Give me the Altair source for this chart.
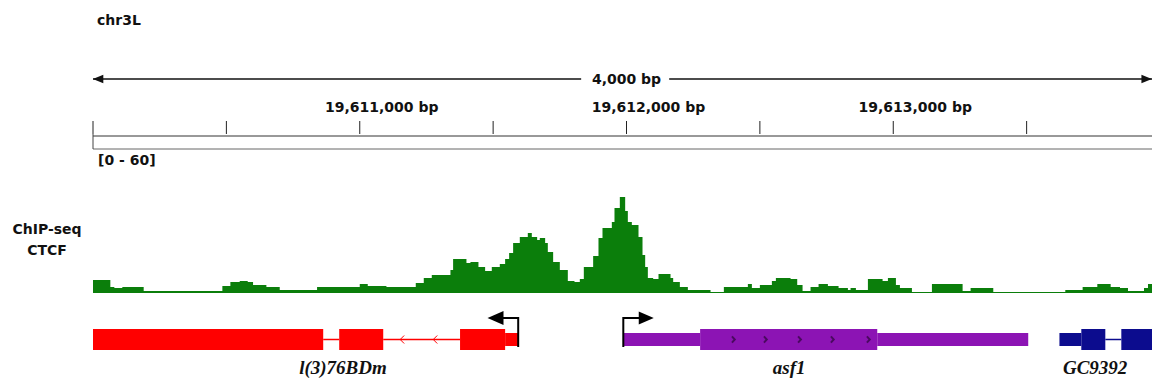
import altair as alt
import pandas as pd

# ---------------- data ----------------
CHROM = "chr3L"
START = 19610000
END = 19614000
TRACK_NAME = ["ChIP-seq", "CTCF"]
DATA_RANGE = "[0 - 60]"

tick_step = 500
label_positions = [19611000, 19612000, 19613000]

# ChIP-seq CTCF coverage (bin start offset from START, value)
sig_offsets = [0, 65, 80, 110, 190, 485, 515, 550, 580, 600, 650, 700, 840, 1000, 1030, 1100,
               1210, 1240, 1270, 1340, 1350, 1400, 1415, 1445, 1470, 1495, 1525, 1545, 1560, 1575,
               1600, 1630, 1645, 1665, 1675, 1695, 1705, 1725, 1750, 1780, 1805, 1825, 1840, 1875,
               1895, 1910, 1945, 1955, 1975, 1995, 2005, 2020, 2045, 2060, 2070, 2080, 2100, 2120,
               2165, 2175, 2200, 2230, 2315, 2365, 2455, 2470, 2500, 2545, 2560, 2615, 2640, 2660,
               2690, 2720, 2755, 2795, 2830, 2840, 2860, 2905, 2960, 2980, 3010, 3025, 3070, 3145,
               3260, 3290, 3375, 3645, 3710, 3765, 3815, 3850, 3880, 3940, 3955, 4000]
sig_values = [7.8, 3.6, 3.0, 3.6, 1.2, 4.2, 6.6, 7.2, 6.6, 4.8, 3.6, 1.8, 3.6, 5.4, 4.2, 3.6,
              6.0, 9.0, 10.8, 13.8, 20.4, 18.0, 18.6, 15.6, 13.2, 15.6, 17.4, 20.4, 24.0, 30.0,
              33.6, 36.0, 33.6, 31.8, 33.0, 30.0, 24.6, 18.6, 13.8, 7.2, 6.6, 8.4, 15.6, 22.2,
              33.0, 39.0, 42.6, 51.0, 57.6, 49.2, 42.6, 40.8, 33.6, 22.8, 15.6, 9.0, 8.4, 11.4,
              9.0, 6.6, 3.6, 1.8, 0.6, 3.6, 5.4, 3.0, 4.8, 7.2, 9.0, 8.4, 4.8, 1.2,
              3.6, 5.4, 4.2, 3.0, 1.8, 3.0, 1.8, 8.4, 7.2, 9.0, 4.8, 3.0, 0.6, 5.4,
              1.2, 3.0, 0.6, 1.8, 3.6, 5.4, 3.6, 3.0, 1.2, 3.0, 5.4, 5.4]

gene_names = ["l(3)76BDm", "asf1", "GC9392"]
gene_colors = ["#ff0000", "#8c14b4", "#0c0c8e"]
gene_label_pos = [19610937, 19612610, 19613757]

# exon blocks: gene, kind, start, end
part_gene = ["l(3)76BDm", "l(3)76BDm", "l(3)76BDm", "l(3)76BDm", "asf1", "asf1", "asf1", "GC9392", "GC9392", "GC9392"]
part_kind = ["thick", "thick", "thick", "thin", "thin", "thick", "thin", "thin", "thick", "thick"]
part_start = [19610000, 19610923, 19611376, 19611545, 19611988, 19612276, 19612940, 19613623, 19613705, 19613855]
part_end = [19610863, 19611088, 19611545, 19611594, 19612276, 19612940, 19613506, 19613705, 19613795, 19614000]

intron_gene = ["l(3)76BDm", "l(3)76BDm", "GC9392"]
intron_start = [19610863, 19611088, 19613795]
intron_end = [19610923, 19611376, 19613855]

red_chevrons = [19611159, 19611283]
purple_marks = [19612400, 19612520, 19612648, 19612771, 19612906]

# transcription start sites: position, arrow head position
tss_pos = [19611594, 19611988]
tss_head = [19611509, 19612074]
tss_dir = ["left", "right"]

GREEN = "#0b7e0b"
FONT = "DejaVu Sans"
SERIF = "Liberation Serif"

# ---------------- tables ----------------
sig_df = pd.DataFrame({"pos": [START + o for o in sig_offsets], "val": sig_values})
ticks_df = pd.DataFrame({"pos": list(range(START, END + 1, tick_step))})
labels_df = pd.DataFrame({"pos": label_positions, "label": [f"{p:,} bp" for p in label_positions]})
box_df = pd.DataFrame({"s": [START], "e": [END]})
span_df = pd.DataFrame({"s": [START, 19612160], "e": [19611830, END]})
span_text_df = pd.DataFrame({"pos": [(START + END) // 2], "t": [f"{END - START:,} bp"]})
parts_df = pd.DataFrame({"gene": part_gene, "kind": part_kind, "s": part_start, "e": part_end})
introns_df = pd.DataFrame({"gene": intron_gene, "s": intron_start, "e": intron_end})
glab_df = pd.DataFrame({"gene": gene_names, "pos": gene_label_pos})
chev_df = pd.DataFrame({"pos": red_chevrons})
marks_df = pd.DataFrame({"pos": purple_marks})
tss_df = pd.DataFrame({"pos": tss_pos, "head": tss_head, "dir": tss_dir})
one = pd.DataFrame({"a": [0]})

xs = alt.Scale(domain=[START, END], range=[85, 1152])
gcol = alt.Color("gene:N", scale=alt.Scale(domain=gene_names, range=gene_colors), legend=None)


def X(f):
    return alt.X(f"{f}:Q", scale=xs, axis=None)


def X2(f):
    return alt.X2(f"{f}:Q")


txt = dict(font=FONT, fontWeight="bold", fontSize=14, color="#111111")

layers = []
# ruler
layers.append(alt.Chart(one).mark_text(align="left", baseline="middle", text=CHROM, **txt)
              .encode(x=alt.value(89), y=alt.value(13)))
layers.append(alt.Chart(span_df).mark_rule(color="#111111", strokeWidth=1.5)
              .encode(x=X("s"), x2=X2("e"), y=alt.value(71)))
layers.append(alt.Chart(pd.DataFrame({"pos": [START + 19]})).mark_point(
    shape="M-1,0L1,-0.8L1,0.8Z", filled=True, color="#111111", size=110, opacity=1)
    .encode(x=X("pos"), y=alt.value(71)))
layers.append(alt.Chart(pd.DataFrame({"pos": [END - 50]})).mark_point(
    shape="M1,0L-1,-0.8L-1,0.8Z", filled=True, color="#111111", size=110, opacity=1)
    .encode(x=X("pos"), y=alt.value(71)))
layers.append(alt.Chart(span_text_df).mark_text(align="center", baseline="middle", **txt)
              .encode(x=X("pos"), y=alt.value(72), text="t:N"))
layers.append(alt.Chart(labels_df).mark_text(align="center", baseline="middle", dx=22, **txt)
              .encode(x=X("pos"), y=alt.value(100), text="label:N"))
layers.append(alt.Chart(ticks_df).mark_rule(color="#222222", strokeWidth=1)
              .encode(x=X("pos"), y=alt.value(113), y2=alt.value(126)))
layers.append(alt.Chart(box_df).mark_rule(color="#333333", strokeWidth=1)
              .encode(x=X("s"), x2=X2("e"), y=alt.value(128)))
layers.append(alt.Chart(box_df).mark_rule(color="#666666", strokeWidth=1)
              .encode(x=X("s"), x2=X2("e"), y=alt.value(141)))
layers.append(alt.Chart(box_df).mark_rule(color="#444444", strokeWidth=1)
              .encode(x=X("s"), y=alt.value(126), y2=alt.value(141)))

# data track
layers.append(alt.Chart(one).mark_text(align="left", baseline="middle", text=DATA_RANGE, **txt)
              .encode(x=alt.value(90), y=alt.value(153)))
layers.append(alt.Chart(one).mark_text(align="center", baseline="middle", text=TRACK_NAME[0], **txt)
              .encode(x=alt.value(39), y=alt.value(222)))
layers.append(alt.Chart(one).mark_text(align="center", baseline="middle", text=TRACK_NAME[1], **txt)
              .encode(x=alt.value(39), y=alt.value(243)))
layers.append(alt.Chart(sig_df).mark_area(interpolate="step-after", color=GREEN)
              .encode(x=X("pos"),
                      y=alt.Y("val:Q", scale=alt.Scale(domain=[0, 60], range=[285, 185]), axis=None)))

# genes
layers.append(alt.Chart(introns_df).mark_rule(strokeWidth=1.5)
              .encode(x=X("s"), x2=X2("e"), y=alt.value(331.5), color=gcol))
layers.append(alt.Chart(parts_df).transform_filter(alt.datum.kind == "thick").mark_rect()
              .encode(x=X("s"), x2=X2("e"), y=alt.value(321), y2=alt.value(342), color=gcol))
layers.append(alt.Chart(parts_df).transform_filter(alt.datum.kind == "thin").mark_rect()
              .encode(x=X("s"), x2=X2("e"), y=alt.value(325), y2=alt.value(338), color=gcol))
layers.append(alt.Chart(chev_df).mark_point(shape="M0.5,-1L-0.5,0L0.5,1", filled=False,
                                             color="#ff0000", strokeWidth=1, size=64, opacity=1)
              .encode(x=X("pos"), y=alt.value(331.5)))
layers.append(alt.Chart(marks_df).mark_point(shape="M-0.4,-1L0.5,0L-0.4,1", filled=False,
                                              color="#4a0a60", strokeWidth=2, size=40, opacity=1)
              .encode(x=X("pos"), y=alt.value(331.5)))
layers.append(alt.Chart(tss_df).mark_rule(color="#000000", strokeWidth=2)
              .encode(x=X("pos"), y=alt.value(309), y2=alt.value(339)))
layers.append(alt.Chart(tss_df).mark_rule(color="#000000", strokeWidth=2)
              .encode(x=X("pos"), x2=X2("head"), y=alt.value(310)))
layers.append(alt.Chart(tss_df).transform_filter(alt.datum.dir == "left").mark_point(
    shape="M-1,0L1,-0.875L1,0.875Z", filled=True, color="#000000", size=256, opacity=1)
    .encode(x=X("head"), y=alt.value(310)))
layers.append(alt.Chart(tss_df).transform_filter(alt.datum.dir == "right").mark_point(
    shape="M1,0L-1,-0.875L-1,0.875Z", filled=True, color="#000000", size=225, opacity=1)
    .encode(x=X("head"), y=alt.value(310)))
layers.append(alt.Chart(glab_df).mark_text(align="center", baseline="alphabetic", font=SERIF,
                                            fontStyle="italic", fontWeight="bold", fontSize=19,
                                            color="#111111")
              .encode(x=X("pos"), y=alt.value(366), text="gene:N"))

chart = alt.layer(*layers).properties(
    width=1144, height=372, padding=0, autosize=alt.AutoSizeParams(type="none"),
    background="white"
).configure_view(stroke=None)

chart.save("out.html", embed_options={"renderer": "svg", "actions": False})
